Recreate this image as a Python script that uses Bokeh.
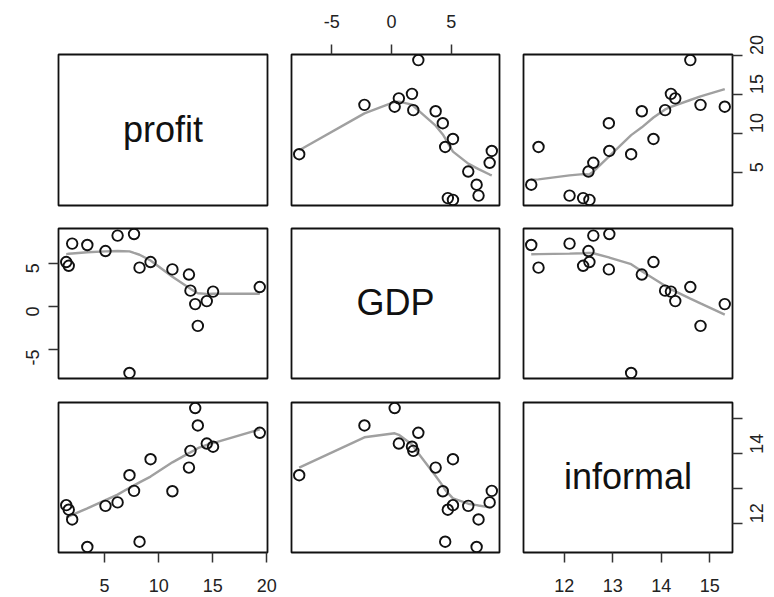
import math
import numpy as np
from bokeh.plotting import figure
from bokeh.models import LinearAxis, FixedTicker, Range1d
from bokeh.layouts import column, row
from bokeh.core.properties import value
from bokeh.embed import file_html
from bokeh.resources import INLINE

profit = [1.45, 1.68, 2.0, 3.4, 5.08, 6.2, 7.72, 8.23, 9.25, 7.3, 11.27, 12.8, 12.94, 13.38, 13.62, 14.45, 15.03, 19.35]
GDP = [5.15, 4.72, 7.29, 7.13, 6.43, 8.22, 8.4, 4.5, 5.15, -7.72, 4.3, 3.7, 1.83, 0.27, -2.26, 0.62, 1.72, 2.25]
informal = [12.52, 12.39, 12.11, 11.32, 12.5, 12.6, 12.93, 11.47, 13.84, 13.38, 12.92, 13.6, 14.08, 15.31, 14.81, 14.29, 14.2, 14.6]

var_names = ["profit", "GDP", "informal"]
var_ticks = [[5, 10, 15, 20], [-5, 0, 5], [12, 13, 14, 15]]
tick_text = [{}, {-5: "-5"}, {13: "", 15: ""}]
x_tick_text = [{}, {-5: "-5"}, {}]

variables = [profit, GDP, informal]


# ---- R-style lowess (clowess) ----
def _lowest(x, y, n, xs, nleft, nright, h, rw, userw):
    rng = x[-1] - x[0]
    h9 = 0.999 * h
    h1 = 0.001 * h
    w = np.zeros(n)
    a = 0.0
    j = nleft
    while j < n:
        r = abs(x[j] - xs)
        if r <= h9:
            if r <= h1:
                w[j] = 1.0
            else:
                w[j] = (1.0 - (r / h) ** 3) ** 3
            if userw:
                w[j] *= rw[j]
            a += w[j]
        elif x[j] > xs:
            break
        j += 1
    nrt = j - 1
    if a <= 0.0:
        return None
    w[nleft:nrt + 1] /= a
    if h > 0.0:
        aa = np.sum(w[nleft:nrt + 1] * x[nleft:nrt + 1])
        b = xs - aa
        c = np.sum(w[nleft:nrt + 1] * (x[nleft:nrt + 1] - aa) ** 2)
        if math.sqrt(c) > 0.001 * rng:
            b /= c
            w[nleft:nrt + 1] *= (b * (x[nleft:nrt + 1] - aa) + 1.0)
    return float(np.sum(w[nleft:nrt + 1] * y[nleft:nrt + 1]))


def lowess(xv, yv, f=2.0 / 3.0, nsteps=3):
    order = np.argsort(np.asarray(xv, float), kind="stable")
    x = np.asarray(xv, float)[order]
    y = np.asarray(yv, float)[order]
    n = len(x)
    delta = 0.01 * (x[-1] - x[0])
    ns = max(2, min(n, int(f * n + 1e-7)))
    ys = np.zeros(n)
    rw = np.ones(n)
    it = 1
    while it <= nsteps + 1:
        nleft, nright = 0, ns - 1
        last = -1
        i = 0
        while True:
            while nright < n - 1:
                d1 = x[i] - x[nleft]
                d2 = x[nright + 1] - x[i]
                if d1 <= d2:
                    break
                nleft += 1
                nright += 1
            h = max(x[i] - x[nleft], x[nright] - x[i])
            v = _lowest(x, y, n, x[i], nleft, nright, h, rw, it > 1)
            ys[i] = y[i] if v is None else v
            if last < i - 1:
                denom = x[i] - x[last]
                for j in range(last + 1, i):
                    alpha = (x[j] - x[last]) / denom
                    ys[j] = alpha * ys[i] + (1 - alpha) * ys[last]
            last = i
            cut = x[last] + delta
            i = last + 1
            while i < n:
                if x[i] > cut:
                    break
                if x[i] == x[last]:
                    ys[i] = ys[last]
                    last = i
                i += 1
            i = max(last + 1, i - 1)
            if last >= n - 1:
                break
        res = y - ys
        if it > nsteps:
            break
        sc = np.mean(np.abs(y))
        cmad = 6.0 * np.median(np.abs(res))
        if cmad < 1e-7 * sc:
            break
        c9 = 0.999 * cmad
        c1 = 0.001 * cmad
        ar = np.abs(res)
        rw = np.where(ar <= c1, 1.0, np.where(ar <= c9, (1 - (ar / cmad) ** 2) ** 2, 0.0))
        it += 1
    return x, ys


def ext_range(v):
    lo, hi = min(v), max(v)
    d = (hi - lo) * 0.04
    return (lo - d, hi + d)


ranges = [ext_range(v) for v in variables]

col_w = [279, 232, 263]
row_h = [216, 174, 206]
b_left = [58, 12, 12]
b_right = [12, 12, 42]
b_top = [54, 12, 12]
b_bottom = [11, 12, 44]

FONT = "Liberation Sans"


def make_axis(ticks, overrides, orient, standoff):
    ax = LinearAxis(ticker=FixedTicker(ticks=ticks, minor_ticks=[]))
    ax.axis_line_color = None
    ax.major_tick_out = 10
    ax.major_tick_in = 0
    ax.minor_tick_line_color = None
    ax.major_tick_line_color = "#333333"
    ax.major_tick_line_width = 1.5
    ax.major_label_text_font = FONT
    ax.major_label_text_font_size = "18px"
    ax.major_label_text_color = "#222222"
    ax.major_label_standoff = standoff
    ax.major_label_orientation = orient
    if overrides:
        ax.major_label_overrides = overrides
    return ax


rows = []
for i in range(3):
    figs = []
    for j in range(3):
        xr = Range1d(*ranges[j])
        yr = Range1d(*ranges[i])
        p = figure(width=col_w[j], height=row_h[i], x_range=xr, y_range=yr,
                   x_axis_location=None, y_axis_location=None,
                   output_backend="svg", toolbar_location=None)
        p.min_border_left = b_left[j]
        p.min_border_right = b_right[j]
        p.min_border_top = b_top[i]
        p.min_border_bottom = b_bottom[i]
        p.outline_line_color = "#111111"
        p.outline_line_width = 1.8
        p.background_fill_color = "white"
        p.border_fill_color = "white"
        p.grid.visible = False

        if i == j:
            cx = (ranges[j][0] + ranges[j][1]) / 2
            cy = (ranges[i][0] + ranges[i][1]) / 2
            p.text(x=[cx], y=[cy], text=[var_names[i]], text_align="center",
                   text_baseline="middle", y_offset=-1,
                   text_font=value(FONT), text_font_size="36px", text_color="#111111")
        else:
            xs, ys = lowess(variables[j], variables[i])
            p.line(xs, ys, line_color="#a0a0a0", line_width=2.4)
            p.scatter(variables[j], variables[i], marker="circle", size=10.5,
                      fill_color=None, line_color="#111111", line_width=1.9)

        # R pairs() axis placement
        if i == 0 and j == 1:
            p.add_layout(make_axis(var_ticks[j], x_tick_text[j], "horizontal", 17), "above")
        if i == 2 and j in (0, 2):
            p.add_layout(make_axis(var_ticks[j], x_tick_text[j], "horizontal", 16), "below")
        if j == 0 and i == 1:
            p.add_layout(make_axis(var_ticks[i], tick_text[i], math.pi / 2, 16), "left")
        if j == 2 and i in (0, 2):
            p.add_layout(make_axis(var_ticks[i], tick_text[i], math.pi / 2, 14), "right")
        figs.append(p)
    rows.append(row(*figs, spacing=0))

layout = column(*rows, spacing=0)

open("out.html", "w").write(file_html(layout, INLINE))
